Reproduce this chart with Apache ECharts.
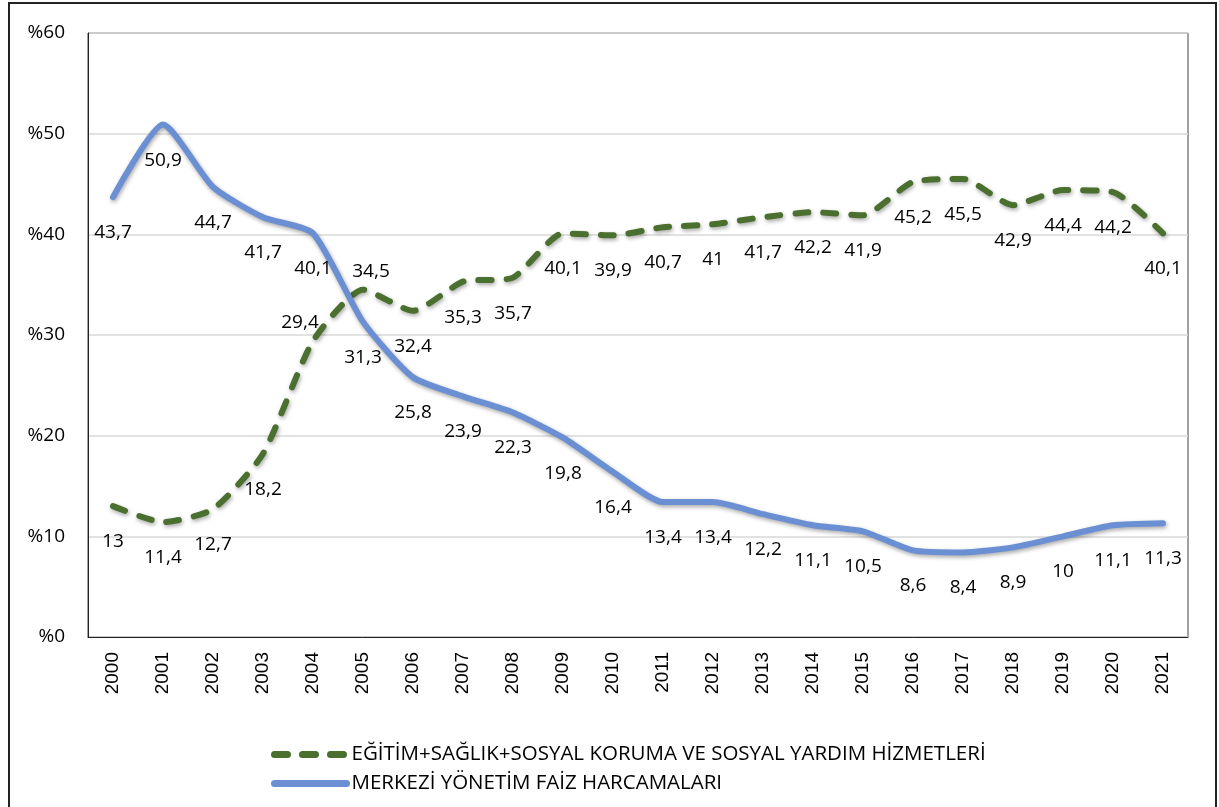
<!DOCTYPE html>
<html>
<head>
<meta charset="utf-8">
<script src="https://cdn.jsdelivr.net/npm/echarts@6/dist/echarts.min.js"></script>
<style>
  html, body { margin: 0; padding: 0; background: #fff; }
  #chart { width: 1219px; height: 807px; }
</style>
</head>
<body>
<div id="chart"></div>
<script>
// yıllar
var years = ["2000","2001","2002","2003","2004","2005","2006","2007","2008","2009","2010",
  "2011","2012","2013","2014","2015","2016","2017","2018","2019","2020","2021"];
// EĞİTİM+SAĞLIK+SOSYAL KORUMA VE SOSYAL YARDIM HİZMETLERİ
var sosyal = [13, 11.4, 12.7, 18.2, 29.4, 34.5, 32.4, 35.3, 35.7, 40.1, 39.9,
  40.7, 41, 41.7, 42.2, 41.9, 45.2, 45.5, 42.9, 44.4, 44.2, 40.1];
// MERKEZİ YÖNETİM FAİZ HARCAMALARI
var faiz = [43.7, 50.9, 44.7, 41.7, 40.1, 31.3, 25.8, 23.9, 22.3, 19.8, 16.4,
  13.4, 13.4, 12.2, 11.1, 10.5, 8.6, 8.4, 8.9, 10, 11.1, 11.3];
var yTicks = [0, 10, 20, 30, 40, 50, 60];

var names = ["EĞİTİM+SAĞLIK+SOSYAL KORUMA VE SOSYAL YARDIM HİZMETLERİ", "MERKEZİ YÖNETİM FAİZ HARCAMALARI"];
var labelFont = "'Open Sans', 'Noto Sans', sans-serif";

function fmt(p) {
  return String(p.value).replace(".", ",");
}

// 2004 ve 2005 etiketleri çizginin üstünde
var sosyalData = sosyal.map(function (v, i) {
  if (i === 4) return { value: v, label: { position: "top", distance: 9, offset: [-13, 0] } };
  if (i === 5) return { value: v, label: { position: "top", distance: 9, offset: [8, 0] } };
  return v;
});

var shadow = {
  shadowColor: "rgba(0,0,0,0.35)",
  shadowBlur: 4,
  shadowOffsetX: 1,
  shadowOffsetY: 2
};

var option = {
  animation: false,
  backgroundColor: "#fff",
  graphic: [{
    type: "rect",
    silent: true,
    shape: { x: 9, y: 3, width: 1207, height: 812 },
    style: { fill: "none", stroke: "#222", lineWidth: 2 }
  }],
  grid: {
    left: 88, right: 31, top: 33, bottom: 170,
    show: true, borderColor: "#444", borderWidth: 1
  },
  legend: {
    orient: "vertical",
    left: 266,
    top: 739,
    itemWidth: 72,
    itemHeight: 18,
    itemGap: 8,
    itemStyle: { opacity: 0 },
    lineStyle: { width: 7, cap: "round" },
    textStyle: { fontSize: 20.5, color: "#000", fontFamily: labelFont },
    data: names
  },
  xAxis: {
    type: "category",
    data: years,
    boundaryGap: true,
    axisLine: { lineStyle: { color: "#222", width: 1 } },
    axisTick: { inside: true, length: 8, lineStyle: { color: "#222" } },
    axisLabel: {
      rotate: 90, margin: 15, fontSize: 19, color: "#000",
      fontFamily: "'Liberation Sans', Arial, sans-serif"
    }
  },
  yAxis: {
    type: "value",
    min: yTicks[0],
    max: yTicks[yTicks.length - 1],
    interval: 10,
    axisLine: { show: true, lineStyle: { color: "#222", width: 1 } },
    axisTick: { show: false },
    splitLine: { lineStyle: { color: "#d9d9d9", width: 1.5 } },
    axisLabel: {
      margin: 23, fontSize: 19, color: "#000", fontFamily: labelFont,
      formatter: function (v) { return "%" + v; }
    }
  },
  series: [
    {
      name: names[0],
      type: "line",
      data: sosyalData,
      smooth: 0.2,
      symbol: "circle",
      symbolSize: 0.1,
      showSymbol: true,
      lineStyle: Object.assign({ color: "#4a6f2e", width: 6, type: [13, 15], cap: "round", join: "round" }, shadow),
      itemStyle: { color: "#4a6f2e" },
      label: {
        show: true, position: "bottom", distance: 26,
        fontSize: 19, color: "#000", fontFamily: labelFont, formatter: fmt
      }
    },
    {
      name: names[1],
      type: "line",
      data: faiz,
      smooth: 0.2,
      symbol: "circle",
      symbolSize: 0.1,
      showSymbol: true,
      lineStyle: Object.assign({ color: "#6b8fd3", width: 6, cap: "round", join: "round" }, shadow),
      itemStyle: { color: "#6b8fd3" },
      label: {
        show: true, position: "bottom", distance: 26,
        fontSize: 19, color: "#000", fontFamily: labelFont, formatter: fmt
      }
    }
  ]
};

var chartObj = echarts.init(document.getElementById("chart"));
chartObj.setOption(option);
</script>
</body>
</html>
